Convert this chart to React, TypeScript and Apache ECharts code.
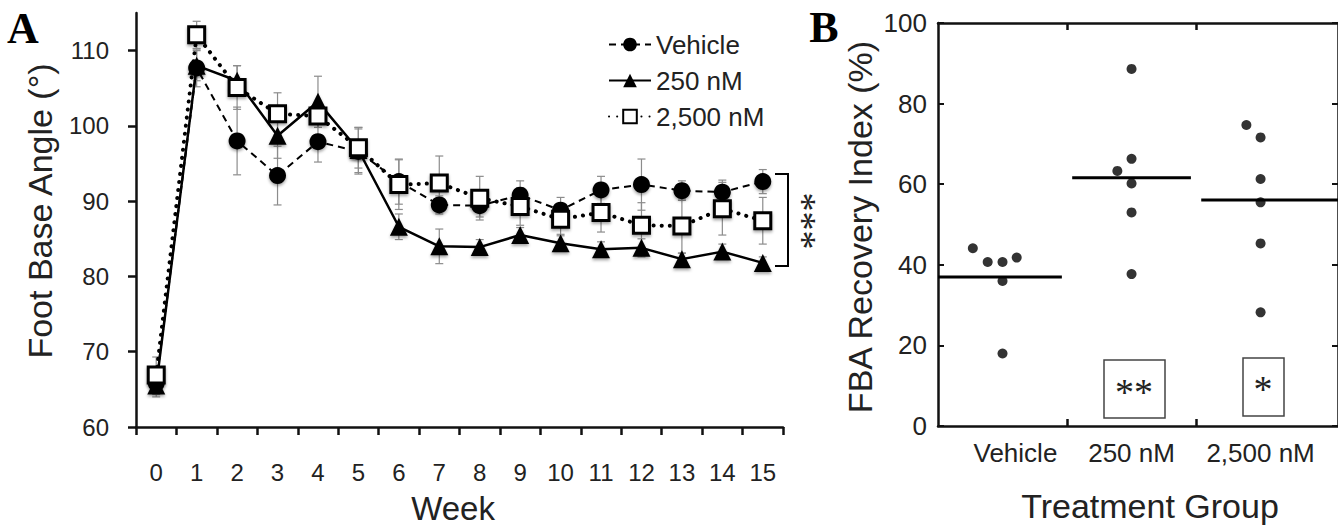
import React, { useEffect, useRef } from 'react';
import * as echarts from 'echarts';

// ---------- Panel A data ----------
const weeks = ['0', '1', '2', '3', '4', '5', '6', '7', '8', '9', '10', '11', '12', '13', '14', '15'];
const seriesNames = ['Vehicle', '250 nM', '2,500 nM'];
const vehicleMean = [65.8, 107.7, 98.0, 93.4, 97.9, 96.6, 92.6, 89.5, 89.4, 90.8, 88.8, 91.5, 92.2, 91.4, 91.2, 92.6];
const nm250Mean = [65.5, 108.0, 106.0, 98.7, 103.2, 96.8, 86.6, 84.0, 83.9, 85.5, 84.4, 83.6, 83.8, 82.3, 83.3, 81.8];
const nm2500Mean = [66.9, 112.1, 105.1, 101.6, 101.3, 97.1, 92.2, 92.4, 90.4, 89.3, 87.6, 88.5, 86.8, 86.7, 89.0, 87.4];
const vehicleErr = [1.5, 2.5, 4.5, 3.9, 2.7, 3.0, 3.0, 1.2, 1.5, 1.9, 1.7, 1.8, 3.4, 1.3, 1.6, 1.6];
const nm250Err = [1.5, 2.0, 2.0, 3.0, 3.4, 3.0, 1.7, 2.3, 1.0, 1.0, 1.0, 1.0, 1.2, 0.8, 1.0, 0.8];
const nm2500Err = [2.4, 1.8, 2.9, 2.8, 1.5, 2.7, 3.3, 3.6, 2.9, 2.5, 2.0, 2.6, 3.0, 3.6, 3.5, 3.1];
const yTicksA = [60, 70, 80, 90, 100, 110];

// ---------- Panel B data ----------
const groups = ['Vehicle', '250 nM', '2,500 nM'];
const vehiclePts = [44.1, 40.7, 40.7, 41.8, 36.0, 18.0];
const vehicleJitter = [-0.23, -0.115, 0, 0.11, 0, 0];
const nm250Pts = [88.6, 66.3, 63.3, 60.2, 53.0, 37.7];
const nm250Jitter = [0, 0, -0.11, 0, 0, 0];
const nm2500Pts = [74.7, 71.6, 61.3, 55.5, 45.3, 28.2];
const nm2500Jitter = [-0.11, 0, 0, 0, 0, 0];
const medians = [37.0, 61.6, 56.1];
const yTicksB = [0, 20, 40, 60, 80, 100];

const SANS = 'Liberation Sans, Arial, sans-serif';
const SERIF = 'Liberation Serif, serif';
const INK = '#111';

export default function App() {
  const ref = useRef<HTMLDivElement>(null);

  useEffect(() => {
    const chart = echarts.init(ref.current as HTMLDivElement, null, { renderer: 'svg' });

    const errSeries = (mean: number[], err: number[]) => ({
      type: 'custom',
      xAxisIndex: 0,
      yAxisIndex: 0,
      z: 1,
      silent: true,
      data: mean.map((m, i) => [i, m - err[i], m + err[i]]),
      renderItem: (params: any, api: any) => {
        const x = api.value(0);
        const lo = api.coord([x, api.value(1)]);
        const hi = api.coord([x, api.value(2)]);
        const w = 4;
        const style = { stroke: '#8c8c8c', lineWidth: 1.2 };
        return {
          type: 'group',
          children: [
            { type: 'line', shape: { x1: lo[0], y1: lo[1], x2: hi[0], y2: hi[1] }, style },
            { type: 'line', shape: { x1: lo[0] - w, y1: lo[1], x2: lo[0] + w, y2: lo[1] }, style },
            { type: 'line', shape: { x1: hi[0] - w, y1: hi[1], x2: hi[0] + w, y2: hi[1] }, style },
          ],
        };
      },
    });

    const shadow = { shadowBlur: 3, shadowColor: 'rgba(0,0,0,0.35)', shadowOffsetY: 2 };

    const ptsData = (pts: number[], jit: number[], g: number) => pts.map((v, i) => [g + 0.5 + jit[i], v]);

    const txt = (text: string, x: number, y: number, size: number, family: string, rot = 0, weight = 'normal', fill = '#222') => ({
      type: 'text',
      x,
      y,
      rotation: rot,
      style: { text, fontSize: size, fontFamily: family, fontWeight: weight, fill, align: 'center', verticalAlign: 'middle' },
    });

    const option: any = {
      animation: false,
      backgroundColor: '#fff',
      textStyle: { fontFamily: SANS, color: INK },
      grid: [
        { left: 136, top: 13, width: 647, height: 414 },
        { left: 938, top: 23, width: 403, height: 403 },
      ],
      xAxis: [
        {
          type: 'category',
          gridIndex: 0,
          data: weeks,
          boundaryGap: true,
          axisLine: { lineStyle: { color: INK, width: 2.5 } },
          axisTick: { show: true, inside: false, length: 8, alignWithLabel: false, interval: 0, lineStyle: { color: INK, width: 2.5 } },
          axisLabel: { interval: 0, fontSize: 24, color: '#222', margin: 33, fontFamily: SANS },
          splitLine: { show: false },
        },
        {
          type: 'value',
          gridIndex: 1,
          min: 0,
          max: 3.1,
          axisLine: { onZero: false, lineStyle: { color: INK, width: 2.5 } },
          axisTick: { show: true, inside: true, length: 7, customValues: [1, 2], lineStyle: { color: INK, width: 2.5 } },
          axisLabel: {
            show: true,
            fontSize: 26,
            color: '#222',
            margin: 14,
            fontFamily: SANS,
            customValues: [0.6, 1.5, 2.5],
            formatter: (v: number) => groups[Math.floor(v)] ?? '',
          },
          splitLine: { show: false },
        },
        {
          type: 'value',
          gridIndex: 1,
          position: 'top',
          min: 0,
          max: 3.1,
          axisLine: { onZero: false, lineStyle: { color: INK, width: 2.5 } },
          axisTick: { show: true, inside: true, length: 7, customValues: [1, 2], lineStyle: { color: INK, width: 2.5 } },
          axisLabel: { show: false },
          splitLine: { show: false },
        },
      ],
      yAxis: [
        {
          type: 'value',
          gridIndex: 0,
          min: 60,
          max: 115,
          axisLine: { show: true, lineStyle: { color: INK, width: 2.5 } },
          axisTick: { show: true, inside: false, length: 8, customValues: yTicksA, lineStyle: { color: INK, width: 2.5 } },
          axisLabel: { fontSize: 24, color: '#222', margin: 27, customValues: yTicksA, fontFamily: SANS },
          splitLine: { show: false },
        },
        {
          type: 'value',
          gridIndex: 1,
          min: 0,
          max: 100,
          interval: 20,
          axisLine: { show: true, onZero: false, lineStyle: { color: INK, width: 2.5 } },
          axisTick: { show: true, inside: true, length: 6, customValues: yTicksB, lineStyle: { color: INK, width: 2 } },
          axisLabel: { fontSize: 26, color: '#222', margin: 11, customValues: yTicksB, fontFamily: SANS },
          splitLine: { show: false },
        },
        {
          type: 'value',
          gridIndex: 1,
          position: 'right',
          min: 0,
          max: 100,
          interval: 20,
          axisLine: { show: true, onZero: false, lineStyle: { color: INK, width: 2.5 } },
          axisTick: { show: true, inside: true, length: 6, customValues: yTicksB, lineStyle: { color: INK, width: 2 } },
          axisLabel: { show: false },
          splitLine: { show: false },
        },
      ],
      legend: {
        data: seriesNames,
        orient: 'vertical',
        left: 603,
        top: 26,
        itemWidth: 42,
        itemHeight: 17,
        itemGap: 9,
        selectedMode: false,
        textStyle: { fontSize: 26, color: '#222', fontFamily: SANS, lineHeight: 27 },
      },
      series: [
        errSeries(vehicleMean, vehicleErr),
        errSeries(nm250Mean, nm250Err),
        errSeries(nm2500Mean, nm2500Err),
        {
          name: seriesNames[0],
          type: 'line',
          xAxisIndex: 0,
          yAxisIndex: 0,
          z: 2,
          data: vehicleMean,
          symbol: 'circle',
          symbolSize: 17,
          itemStyle: { color: '#000', ...shadow },
          lineStyle: { color: '#000', width: 2, type: [7, 5] },
        },
        {
          name: seriesNames[1],
          type: 'line',
          xAxisIndex: 0,
          yAxisIndex: 0,
          z: 3,
          data: nm250Mean,
          symbol: 'triangle',
          symbolSize: 18,
          itemStyle: { color: '#000', ...shadow },
          lineStyle: { color: '#000', width: 2.5, type: 'solid' },
        },
        {
          name: seriesNames[2],
          type: 'line',
          xAxisIndex: 0,
          yAxisIndex: 0,
          z: 4,
          data: nm2500Mean,
          symbol: 'rect',
          symbolSize: 16,
          itemStyle: { color: '#fff', borderColor: '#000', borderWidth: 3, ...shadow },
          lineStyle: { color: '#000', width: 4, type: [0.1, 8], cap: 'round' },
        },
        // Panel B medians
        {
          type: 'custom',
          xAxisIndex: 1,
          yAxisIndex: 1,
          z: 2,
          silent: true,
          data: medians.map((m, i) => [i, m]),
          renderItem: (params: any, api: any) => {
            const g = api.value(0);
            const m = api.value(1);
            const a = api.coord([g === 0 ? 0 : g + 0.04, m]);
            const b = api.coord([g === 2 ? 3.1 : g + 0.96, m]);
            return { type: 'line', shape: { x1: a[0], y1: a[1], x2: b[0], y2: b[1] }, style: { stroke: '#000', lineWidth: 3 } };
          },
        },
        {
          type: 'scatter',
          xAxisIndex: 1,
          yAxisIndex: 1,
          z: 3,
          symbolSize: 10,
          itemStyle: { color: '#000' },
          data: [
            ...ptsData(vehiclePts, vehicleJitter, 0),
            ...ptsData(nm250Pts, nm250Jitter, 1),
            ...ptsData(nm2500Pts, nm2500Jitter, 2),
          ],
        },
      ],
      graphic: [
        // Panel letters
        txt('A', 23, 28, 44, SERIF, 0, 'bold', '#000'),
        txt('B', 824, 27, 44, SERIF, 0, 'bold', '#000'),
        // Axis titles
        txt('Foot Base Angle (°)', 40, 211, 34, SANS, Math.PI / 2),
        txt('Week', 453, 508, 33, SANS),
        txt('FBA Recovery Index (%)', 860, 227, 34, SANS, Math.PI / 2),
        txt('Treatment Group', 1150, 506, 34, SANS),
        // Significance bracket A
        {
          type: 'polyline',
          shape: { points: [[775, 174], [788, 174], [788, 266], [775, 266]] },
          style: { stroke: '#000', lineWidth: 2, fill: 'none' },
        },
        txt('***', 813, 221, 38, SERIF, Math.PI / 2),
        // Significance boxes B
        { type: 'rect', shape: { x: 1104, y: 360, width: 61, height: 58 }, style: { fill: 'none', stroke: '#444', lineWidth: 1.5 } },
        txt('**', 1134, 392, 38, SERIF),
        { type: 'rect', shape: { x: 1243, y: 358, width: 41, height: 58 }, style: { fill: 'none', stroke: '#444', lineWidth: 1.5 } },
        txt('*', 1263, 389, 38, SERIF),
      ],
    };

    chart.setOption(option);
    return () => chart.dispose();
  }, []);

  return (
    <div
      ref={ref}
      style={{ position: 'fixed', left: 0, top: 0, width: 1338, height: 525, background: '#fff' }}
    />
  );
}
